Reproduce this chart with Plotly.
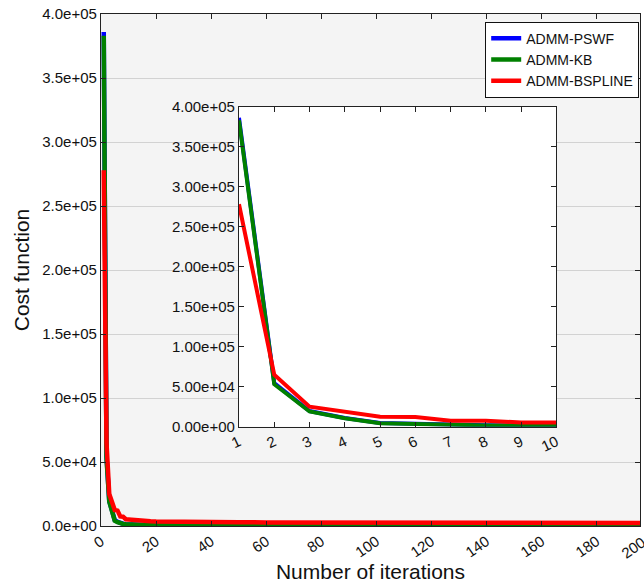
import plotly.graph_objects as go

iters = [1, 2, 3, 4, 5, 6, 7, 8, 9, 10, 12, 14, 16, 18, 20, 25, 30, 40, 50, 60,
         80, 100, 120, 140, 160, 180, 200]
pswf = [386000, 54500, 19500, 10800, 4500, 3300, 2300, 1800, 1400, 1200, 1000, 850,
        750, 650, 600, 500, 450, 400, 350, 300, 300, 250, 250, 250, 200, 200, 200]
kb = [383000, 53000, 19000, 10500, 4200, 3000, 2100, 1600, 1300, 1100, 950, 800,
      700, 600, 550, 480, 430, 380, 330, 300, 280, 250, 230, 220, 200, 200, 200]
bspline = [278000, 65000, 25000, 19000, 12500, 12000, 7500, 7300, 5300, 5100, 4600,
           4200, 3900, 3700, 3500, 3300, 3200, 3000, 2900, 2800, 2700, 2600, 2600,
           2500, 2500, 2400, 2400]

series_names = ["ADMM-PSWF", "ADMM-KB", "ADMM-BSPLINE"]
series_vals = [pswf, kb, bspline]
series_colors = ["#0000ff", "#008000", "#ff0000"]

main_xmax = 195.8
main_xticks = [0, 20, 40, 60, 80, 100, 120, 140, 160, 180]
main_xlast = 200
main_yticks = [0, 50000, 100000, 150000, 200000, 250000, 300000, 350000, 400000]
main_ytext = ["0.0e+00", "5.0e+04", "1.0e+05", "1.5e+05", "2.0e+05", "2.5e+05",
              "3.0e+05", "3.5e+05", "4.0e+05"]
inset_xticks = [1, 2, 3, 4, 5, 6, 7, 8, 9, 10]
inset_ytext = ["0.00e+00", "5.00e+04", "1.00e+05", "1.50e+05", "2.00e+05",
               "2.50e+05", "3.00e+05", "3.50e+05", "4.00e+05"]

FONT = "Liberation Sans, Arial, Helvetica, sans-serif"

fig = go.Figure()
for name, vals, col in zip(series_names, series_vals, series_colors):
    fig.add_trace(go.Scatter(x=iters, y=vals, mode="lines", name=name,
                             line=dict(color=col, width=4.5), xaxis="x", yaxis="y"))
for name, vals, col in zip(series_names, series_vals, series_colors):
    fig.add_trace(go.Scatter(x=iters, y=vals, mode="lines", name=name, showlegend=False,
                             line=dict(color=col, width=4), xaxis="x2", yaxis="y2"))

axis_common = dict(showline=True, linecolor="#222", linewidth=1.2, mirror="ticks",
                   ticks="inside", ticklen=5, tickcolor="#222", zeroline=False,
                   tickfont=dict(family=FONT, size=15, color="#111"))

fig.update_layout(
    width=644, height=583,
    margin=dict(l=101, r=0, t=14, b=57),
    paper_bgcolor="white", plot_bgcolor="white",
    font=dict(family=FONT, color="#111"),
    xaxis=dict(domain=[0, 1], range=[0, main_xmax], tickvals=main_xticks, tickangle=-35,
               showgrid=False,
               title=dict(text="Number of iterations", font=dict(size=21), standoff=1),
               **axis_common),
    yaxis=dict(domain=[0, 1], range=[0, 400000], tickvals=main_yticks, ticktext=main_ytext,
               showgrid=True, gridcolor="#d2d2d2", gridwidth=1,
               title=dict(text="Cost function", font=dict(size=21), standoff=6),
               **axis_common),
    xaxis2=dict(domain=[0.256, 0.845], range=[1, 10], tickvals=inset_xticks, tickangle=-25,
                showgrid=False, anchor="y2", **axis_common),
    yaxis2=dict(domain=[0.194, 0.819], range=[0, 400000], tickvals=main_yticks,
                ticktext=inset_ytext, showgrid=False, anchor="x2", **axis_common),
    legend=dict(x=0.9985, xanchor="right", y=0.985, yanchor="top",
                bgcolor="white", bordercolor="#111", borderwidth=1,
                font=dict(family=FONT, size=14, color="#111"),
                tracegroupgap=0),
    showlegend=True,
)

# grey background for the main axes (inset keeps its own white background)
fig.add_shape(type="rect", xref="paper", yref="paper", x0=0, x1=1, y0=0, y1=1,
              fillcolor="#f4f4f4", line=dict(width=0), layer="below")

fig.add_annotation(x=main_xlast / main_xmax, xref="paper", y=0, yref="paper",
                   text=str(main_xlast), showarrow=False, textangle=-35,
                   xanchor="right", yanchor="top", yshift=-5,
                   font=dict(family=FONT, size=15, color="#111"))

fig.write_html("out.html")
